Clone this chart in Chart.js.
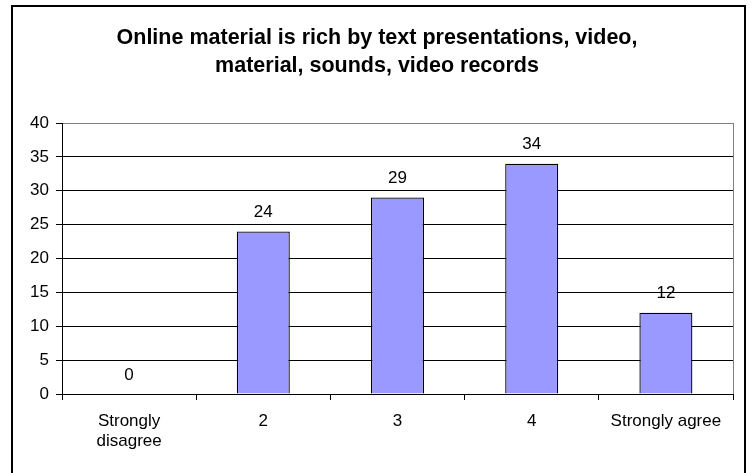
<!DOCTYPE html>
<html>
<head>
<meta charset="utf-8">
<script src="https://cdn.jsdelivr.net/npm/chart.js@4/dist/chart.umd.min.js"></script>
<style>
  html, body { margin: 0; padding: 0; background: #ffffff; }
  canvas { display: block; }
</style>
</head>
<body>
<canvas id="chart" width="752" height="473"></canvas>
<script>
// Survey answers: share of respondents per agreement level
const titleLines = ['Online material is rich by text presentations, video,', 'material, sounds, video records'];
const categories = [['Strongly', 'disagree'], '2', '3', '4', 'Strongly agree'];
const values = [0, 24, 29, 34, 12];
const yMin = 0;
const yMax = 40;
const yStep = 5;

const FONT = '"Liberation Sans", Arial, Helvetica, sans-serif';

// Title centred on the whole frame, outer frame, grey right edge of the plot area
const framePlugin = {
  id: 'frame',
  afterDraw(chart) {
    const ctx = chart.ctx;
    const a = chart.chartArea;
    ctx.save();
    ctx.strokeStyle = '#808080';
    ctx.lineWidth = 1;
    ctx.beginPath();
    ctx.moveTo(Math.round(a.right) + 0.5, a.top);
    ctx.lineTo(Math.round(a.right) + 0.5, a.bottom);
    ctx.stroke();
    ctx.strokeStyle = '#000000';
    ctx.lineWidth = 2;
    ctx.strokeRect(12, 6, 733, 490);

    ctx.fillStyle = '#000000';
    ctx.font = 'bold 21.5px ' + FONT;
    ctx.textAlign = 'center';
    ctx.textBaseline = 'middle';
    titleLines.forEach((line, i) => ctx.fillText(line, 377, 38 + i * 28));
    ctx.restore();
  }
};

// Value labels above each bar
const valueLabelPlugin = {
  id: 'valueLabels',
  afterDatasetsDraw(chart) {
    const ctx = chart.ctx;
    const meta = chart.getDatasetMeta(0);
    ctx.save();
    ctx.font = '17px ' + FONT;
    ctx.fillStyle = '#000000';
    ctx.textAlign = 'center';
    ctx.textBaseline = 'middle';
    meta.data.forEach((bar, i) => {
      ctx.fillText(String(values[i]), bar.x, bar.y - 19);
    });
    ctx.restore();
  }
};

new Chart(document.getElementById('chart'), {
  type: 'bar',
  data: {
    labels: categories,
    datasets: [{
      data: values,
      backgroundColor: '#9999FF',
      borderColor: '#000000',
      borderWidth: 1.3,
      borderSkipped: 'start',
      categoryPercentage: 1.0,
      barPercentage: 0.395
    }]
  },
  options: {
    responsive: false,
    animation: false,
    devicePixelRatio: 1,
    layout: { padding: { left: 0, right: 19, top: 123, bottom: 0 } },
    plugins: {
      legend: { display: false },
      tooltip: { enabled: false },
      title: { display: false }
    },
    scales: {
      x: {
        offset: true,
        grid: {
          display: true,
          offset: true,
          drawOnChartArea: false,
          drawTicks: true,
          tickLength: 6,
          color: '#000000',
          lineWidth: 1
        },
        border: { display: true, color: '#000000', width: 1 },
        ticks: {
          color: '#000000',
          font: { family: FONT, size: 17, lineHeight: 1.2 },
          padding: 11,
          maxRotation: 0,
          autoSkip: false
        },
        afterFit(scale) { scale.height = 79; }
      },
      y: {
        min: yMin,
        max: yMax,
        grid: {
          color: (c) => (c.tick && c.tick.value === yMax ? '#808080' : '#000000'),
          lineWidth: 1,
          drawTicks: true,
          tickLength: 6,
          tickColor: '#000000'
        },
        border: { display: true, color: '#000000', width: 1 },
        ticks: {
          stepSize: yStep,
          color: '#000000',
          font: { family: FONT, size: 17 },
          padding: 7
        },
        afterFit(scale) { scale.width = 62; }
      }
    }
  },
  plugins: [framePlugin, valueLabelPlugin]
});
</script>
</body>
</html>
